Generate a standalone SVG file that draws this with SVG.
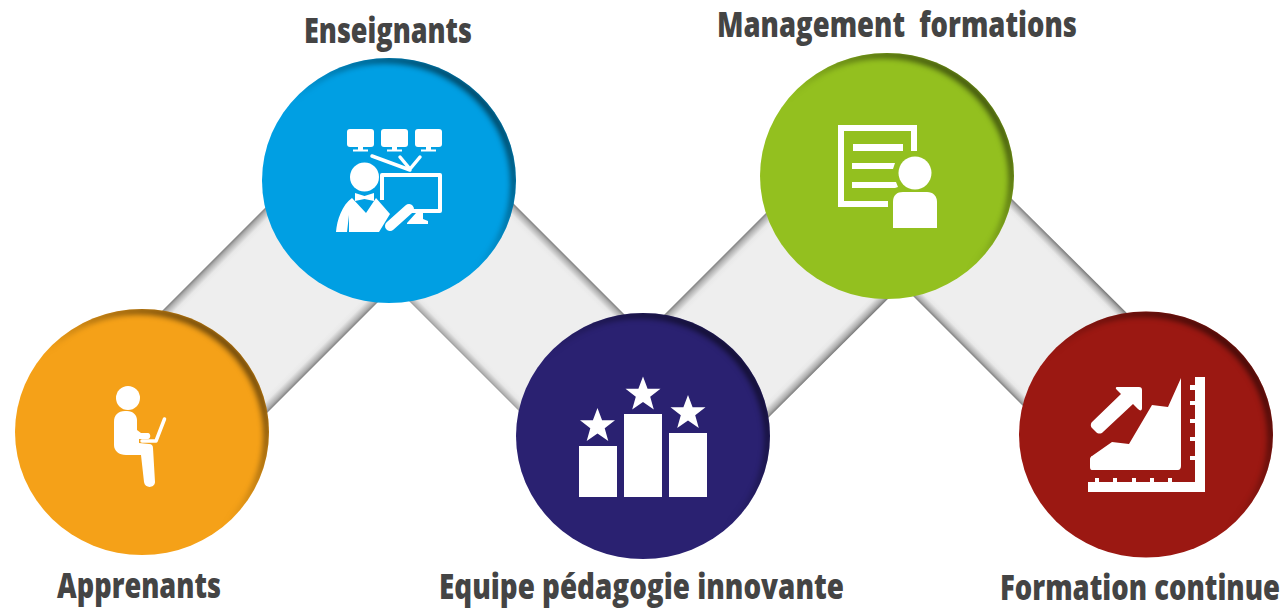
<svg xmlns="http://www.w3.org/2000/svg" width="1285" height="610" viewBox="0 0 1285 610">
<style>
.lbl{font-family:"Open Sans","Noto Sans","Liberation Sans",sans-serif;font-weight:800;font-size:35px;fill:#444}
.ic{fill:#fff}
.ln{fill:none;stroke:#fff}
</style>
<defs>
<filter id="inner" x="-5%" y="-5%" width="110%" height="110%" color-interpolation-filters="sRGB">
<feOffset in="SourceAlpha" dx="-4" dy="4" result="o"/>
<feComposite in="SourceAlpha" in2="o" operator="out" result="e"/>
<feGaussianBlur in="e" stdDeviation="3" result="b"/>
<feFlood flood-color="#000" flood-opacity=".75"/>
<feComposite in2="b" operator="in" result="s"/>
<feComposite in="s" in2="SourceAlpha" operator="in" result="c"/>
<feMerge><feMergeNode in="SourceGraphic"/><feMergeNode in="c"/></feMerge>
</filter>
<linearGradient id="band"><stop offset="0" stop-color="#7f7f7f"/><stop offset=".02" stop-color="#b0b0b0"/><stop offset=".06" stop-color="#e8e8e8"/><stop offset=".09" stop-color="#eee"/><stop offset=".91" stop-color="#eee"/><stop offset=".94" stop-color="#e8e8e8"/><stop offset=".98" stop-color="#b0b0b0"/><stop offset="1" stop-color="#7f7f7f"/></linearGradient>
<linearGradient id="g1" href="#band" gradientUnits="userSpaceOnUse" x1="214" y1="259" x2="317.500" y2="362.500"/>
<linearGradient id="g2" href="#band" gradientUnits="userSpaceOnUse" x1="570" y1="260" x2="468" y2="362"/>
<linearGradient id="g3" href="#band" gradientUnits="userSpaceOnUse" x1="715" y1="264" x2="818.500" y2="367.500"/>
<linearGradient id="g4" href="#band" gradientUnits="userSpaceOnUse" x1="1070" y1="257" x2="972" y2="355"/>
<polygon id="star" points="0,-18 4.600,-5.700 17.500,-5.700 7.200,2.300 10.800,15 0,7.600 -10.800,15 -7.200,2.300 -17.500,-5.700 -4.600,-5.700"/>
<g id="mon"><rect x="0" y="0" width="27" height="18" rx="3" class="ic"/><rect x="11" y="17" width="5" height="4" class="ic"/><rect x="6" y="20.500" width="15" height="2" class="ic"/></g>
</defs>
<g id="connectors">
<polygon points="143,330 280,193 395,285 258,422" fill="url(#g1)"/>
<polygon points="500,190 645,335 540,432 395,287" fill="url(#g2)"/>
<polygon points="645,334 785,194 900,287 755,431" fill="url(#g3)"/>
<polygon points="1000,187 1148,334 1044,427 895,278" fill="url(#g4)"/>
</g>
<g id="apprenants">
<ellipse cx="142" cy="432" rx="127" ry="123" fill="#f5a118" filter="url(#inner)"/>
<circle class="ic" cx="128" cy="398" r="12"/>
<path class="ic" d="M125 411H127C133 411 137 415 137 420V430L141 433H148C151 433 151 439 148 439H139V443L149 444C152 444 153 446 153 448L155 482C155 488 145 489 144 482L141 455H126C119 455 114 451 114 445V422C114 415 118 411 125 411Z"/>
<path class="ln" d="M164.500 419L156 441H142" stroke-width="3.500" stroke-linecap="round" stroke-linejoin="round"/>
<text class="lbl" x="57" y="598" textLength="164" lengthAdjust="spacingAndGlyphs">Apprenants</text>
</g>
<g id="enseignants">
<ellipse cx="389" cy="180.500" rx="127" ry="122.500" fill="#009fe3" filter="url(#inner)"/>
<use href="#mon" x="347" y="129"/><use href="#mon" x="381" y="129"/><use href="#mon" x="415" y="129"/>
<path class="ln" d="M372 156L410 170M400 157L410 169L420 157" stroke-width="3.500" stroke-linecap="round" stroke-linejoin="round"/>
<path class="ln" d="M382 200V175H440V211H412" stroke-width="4" stroke-linejoin="round"/>
<path class="ic" d="M407 223L416 213H423V219L428 221V224H407Z"/>
<circle class="ic" cx="364.500" cy="177" r="14.500"/>
<path class="ic" d="M355 193L364.500 196L374 193V201L364.500 199L355 201Z"/>
<path class="ic" d="M352 198L366 213L376 198L390 214L379 232H349V215L347 232H336C337 220 342 205 352 198Z"/>
<path class="ln" d="M390 226L409 209" stroke-width="10" stroke-linecap="round"/>
<text class="lbl" x="304" y="43" textLength="168" lengthAdjust="spacingAndGlyphs">Enseignants</text>
</g>
<g id="equipe">
<ellipse cx="643" cy="436" rx="127" ry="123" fill="#2a2171" filter="url(#inner)"/>
<rect class="ic" x="579" y="446" width="38" height="51"/>
<rect class="ic" x="624" y="414" width="38" height="83"/>
<rect class="ic" x="669" y="433" width="38" height="64"/>
<use href="#star" class="ic" x="597.500" y="426"/><use href="#star" class="ic" x="643" y="394.500"/><use href="#star" class="ic" x="688" y="413"/>
<text class="lbl" x="439" y="599" textLength="405" lengthAdjust="spacingAndGlyphs">Equipe pédagogie innovante</text>
</g>
<g id="management">
<ellipse cx="887" cy="176" rx="127" ry="123" fill="#93c01f" filter="url(#inner)"/>
<path class="ln" d="M888 204H841V128H914V151" stroke-width="6"/>
<rect class="ic" x="853" y="144" width="50" height="7"/>
<path class="ic" d="M852 163H895L893 169H852ZM852 182H896L898 187L895 188H852Z"/>
<circle class="ic" cx="915" cy="173" r="16.500"/>
<path class="ic" d="M893 228V202C893 195 897 192 903 192H927C933 192 937 196 937 202V228Z"/>
<text class="lbl" x="717" y="37" textLength="360" lengthAdjust="spacingAndGlyphs" xml:space="preserve">Management  formations</text>
</g>
<g id="formation">
<ellipse cx="1146" cy="434.500" rx="127" ry="123" fill="#9b1812" filter="url(#inner)"/>
<path class="ic" d="M1117 387H1139C1141 387 1142 388 1142 390V408C1142 411 1140 411 1138 409L1133 404L1103 432C1101 434 1098 434 1096 432L1092 428C1090 426 1091 423 1092 422L1121 394L1117 390C1115 388 1116 387 1117 387Z"/>
<path class="ic" d="M1181 378V466C1181 468 1180 470 1178 470H1092C1090 470 1090 468 1090 466V459C1090 458 1091 456 1092 456L1112 442L1129 444L1152 405L1168 407Z"/>
<path class="ic" d="M1088 482V492H1205V377H1195V385H1190V390H1195V401H1190V405H1195V419H1190V423H1195V437H1190V441H1195V456H1190V460H1195V482H1172V478H1168V482H1154V478H1150V482H1136V478H1132V482H1117V478H1113V482H1099V478H1095V482Z"/>
<text class="lbl" x="1000" y="600" textLength="280" lengthAdjust="spacingAndGlyphs">Formation continue</text>
</g>
</svg>
